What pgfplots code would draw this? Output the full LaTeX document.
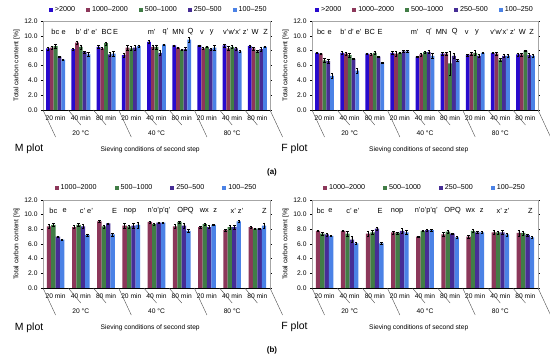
\documentclass[border=0pt]{standalone}
\usepackage{fontspec}
\setmainfont{Liberation Sans}
\usepackage{pgfplots}
\pgfplotsset{compat=1.18}
\usepackage{pgfplotstable}

\definecolor{c1}{RGB}{40,10,205}
\definecolor{c2}{RGB}{140,55,90}
\definecolor{c3}{RGB}{65,125,70}
\definecolor{c4}{RGB}{70,45,150}
\definecolor{c5}{RGB}{75,130,230}

\newcommand\fs{\fontsize{6.7}{8}\selectfont}
\newcommand\fl{\fontsize{7.4}{8.5}\selectfont}

% M plot (a)
\pgfplotstableread{
x a b c d e ea eb ec ed ee
0 8.3 8.4 8.6 7.2 6.8 0.2 0.2 0.3 0.1 0.1
1 8.2 9.1 8.5 7.8 7.5 0.1 0.2 0.3 0.1 0.3
2 8.5 8.3 9.0 7.5 7.6 0.2 0.1 0.2 0.3 0.3
3 7.4 8.4 8.3 8.4 8.6 0.3 0.3 0.3 0.3 0.2
4 9.2 8.5 8.5 7.7 8.8 0.2 0.3 0.3 0.3 0.1
5 8.7 8.4 8.1 8.2 9.5 0.1 0.1 0.1 0.2 0.3
6 8.7 8.3 8.5 8.2 8.4 0.1 0.1 0.1 0.1 0.3
7 8.7 8.3 8.5 8.3 7.9 0.2 0.3 0.2 0.2 0.1
8 8.6 8.3 7.9 8.2 8.5 0.2 0.2 0.1 0.3 0.1
}\MA
% F plot (a)
\pgfplotstableread{
x a b c d e ea eb ec ed ee
0 7.7 7.6 6.7 6.6 4.6 0.1 0.1 0.3 0.3 0.3
1 7.7 7.6 7.4 6.9 5.3 0.2 0.2 0.3 0.1 0.3
2 7.6 7.5 7.7 7.2 6.4 0.1 0.1 0.2 0.1 0.1
3 7.7 7.6 7.7 7.9 7.9 0.2 0.3 0.1 0.1 0.1
4 7.2 7.5 7.8 7.8 7.3 0.1 0.2 0.1 0.2 0.3
5 7.6 7.6 6.3 7.3 6.7 0.2 0.2 1.6 0.3 0.1
6 7.4 7.6 7.7 7.3 7.7 0.1 0.2 0.3 0.2 0.1
7 7.7 7.6 6.8 7.3 7.3 0.1 0.2 0.2 0.2 0.2
8 7.5 7.5 8.0 7.4 7.3 0.2 0.2 0.1 0.3 0.2
}\FA
% M plot (b)
\pgfplotstableread{
x b c d e eb ec ed ee
0 8.4 8.6 7.0 6.6 0.3 0.2 0.1 0.1
1 8.3 8.6 8.4 7.2 0.2 0.2 0.3 0.2
2 9.1 8.4 8.8 7.3 0.1 0.2 0.1 0.2
3 8.5 8.4 8.5 8.6 0.3 0.2 0.3 0.4
4 9.0 8.7 8.9 8.9 0.1 0.1 0.1 0.1
5 8.4 9.0 8.5 7.8 0.3 0.1 0.3 0.2
6 8.3 8.7 8.3 8.6 0.1 0.1 0.2 0.1
7 7.9 8.3 8.3 9.1 0.1 0.3 0.3 0.1
8 8.3 8.1 8.1 8.5 0.1 0.1 0.1 0.4
}\MB
% F plot (b)
\pgfplotstableread{
x b c d e eb ec ed ee
0 7.8 7.4 7.3 7.1 0.1 0.2 0.2 0.1
1 7.8 7.4 6.6 6.1 0.1 0.3 0.4 0.1
2 7.4 7.6 8.1 6.1 0.4 0.3 0.2 0.1
3 7.6 7.5 7.8 7.6 0.2 0.1 0.3 0.3
4 7.0 7.8 7.9 7.9 0.1 0.1 0.1 0.1
5 7.3 7.7 7.4 6.9 0.3 0.2 0.1 0.1
6 7.0 7.8 7.6 7.6 0.2 0.2 0.1 0.1
7 7.6 7.6 7.6 7.3 0.3 0.2 0.3 0.2
8 7.5 7.5 7.2 6.9 0.4 0.3 0.2 0.1
}\FB

\pgfplotsset{
  panel/.style={
    scale only axis, height=89bp,
    xmin=-0.5, xmax=8.5, ymin=0, ymax=12,
    xtick={0,...,8},
    xticklabels={20 min,40 min,80 min,20 min,40 min,80 min,20 min,40 min,80 min},
    x tick style={draw=none},
    ytick={0,2,...,12},
    y tick style={black, line width=0.4pt},
    tick align=outside, major tick length=2bp,
    y tick label style={/pgf/number format/.cd, fixed, fixed zerofill, precision=1, /tikz/.cd},
    /pgf/number format/assume math mode=true,
    tick label style={font=\fs},
    x tick label style={yshift=-0.5bp},
    axis line style={gray!70},
    ylabel={Total carbon content [\%]},
    ylabel style={font=\fs, yshift=-2bp},
    clip=false,
    legend style={draw=none, fill=none, font=\fontsize{7.2}{8}\selectfont, legend columns=-1, anchor=center, inner sep=0pt},
    legend cell align=left,
  },
  sq/.style={fill=#1, draw=none, legend image code/.code={\fill[#1] (0bp,-2bp) rectangle (4bp,2bp);}},
  eb/.style={error bars/.cd, y dir=both, y explicit, error bar style={black, line width=0.4pt}, error mark options={rotate=90, black, mark size=1.2bp, line width=0.4pt}},
}

\newcommand\xdecor{%
  \draw[black, line width=0.5pt] (axis cs:-0.5,0) -- (axis cs:8.5,0);
  \draw[gray!60!black, line width=0.4pt] (axis cs:-0.5,0) -- ++(0,-27bp);
  \draw[gray!60!black, line width=0.4pt] (axis cs:2.5,0) -- ++(0,-27bp);
  \draw[gray!60!black, line width=0.4pt] (axis cs:5.5,0) -- ++(0,-27bp);
  \draw[gray!60!black, line width=0.4pt] (axis cs:8.5,0) -- ++(0,-27bp);
  \draw[gray!60!black, line width=0.4pt] (axis cs:0.5,0) -- ++(0,-15bp);
  \draw[gray!60!black, line width=0.4pt] (axis cs:1.5,0) -- ++(0,-15bp);
  \draw[gray!60!black, line width=0.4pt] (axis cs:3.5,0) -- ++(0,-15bp);
  \draw[gray!60!black, line width=0.4pt] (axis cs:4.5,0) -- ++(0,-15bp);
  \draw[gray!60!black, line width=0.4pt] (axis cs:6.5,0) -- ++(0,-15bp);
  \draw[gray!60!black, line width=0.4pt] (axis cs:7.5,0) -- ++(0,-15bp);
  \node[font=\fs] at (axis cs:1,0) [yshift=-23.5bp] {20 °C};
  \node[font=\fs] at (axis cs:4,0) [yshift=-23.5bp] {40 °C};
  \node[font=\fs] at (axis cs:7,0) [yshift=-23.5bp] {80 °C};
  \node[font=\fs] at (axis cs:3.75,0) [yshift=-40bp] {Sieving conditions of second step};
}

\begin{document}
\begin{tikzpicture}
\path[use as bounding box] (0,0) rectangle (550bp,364bp);

% ---------- (a) M plot ----------
\begin{axis}[panel, width=227bp, at={(43bp,254bp)}, anchor=south west,
  ybar=0pt, bar width=0.15,
  legend style={at={(0.51,1.124)}, /tikz/every even column/.append style={column sep=9bp}}]
\addplot[sq=c1, eb] table[x=x,y=a,y error=ea]{\MA};
\addplot[sq=c2, eb] table[x=x,y=b,y error=eb]{\MA};
\addplot[sq=c3, eb] table[x=x,y=c,y error=ec]{\MA};
\addplot[sq=c4, eb] table[x=x,y=d,y error=ed]{\MA};
\addplot[sq=c5, eb] table[x=x,y=e,y error=ee]{\MA};
\legend{>2000,1000--2000,500--1000,250--500,100--250}
\xdecor
\begin{scope}[every node/.style={font=\fl}]
\node at (axis cs:-0.01,10.5) {bc};
\node at (axis cs:0.32,10.5) {e};
\node at (axis cs:1.22,10.5) {b' d' e'};
\node at (axis cs:2.03,10.5) {BC};
\node at (axis cs:2.38,10.5) {E};
\node at (axis cs:3.81,10.5) {m'};
\node at (axis cs:4.36,10.5) {q'};
\node at (axis cs:4.86,10.5) {MN};
\node at (axis cs:5.35,10.5) {Q};
\node at (axis cs:5.80,10.5) {v};
\node at (axis cs:6.19,10.5) {y};
\node at (axis cs:7.14,10.5) {v'w'x' z'};
\node at (axis cs:7.91,10.5) {W};
\node at (axis cs:8.33,10.5) {Z};
\end{scope}
\end{axis}

% ---------- (a) F plot ----------
\begin{axis}[panel, width=226bp, at={(312bp,254bp)}, anchor=south west,
  ybar=0pt, bar width=0.15,
  legend style={at={(0.5,1.124)}, /tikz/every even column/.append style={column sep=9bp}}]
\addplot[sq=c1, eb] table[x=x,y=a,y error=ea]{\FA};
\addplot[sq=c2, eb] table[x=x,y=b,y error=eb]{\FA};
\addplot[sq=c3, eb] table[x=x,y=c,y error=ec]{\FA};
\addplot[sq=c4, eb] table[x=x,y=d,y error=ed]{\FA};
\addplot[sq=c5, eb] table[x=x,y=e,y error=ee]{\FA};
\legend{>2000,1000--2000,500--1000,250--500,100--250}
\xdecor
\begin{scope}[every node/.style={font=\fl}]
\node at (axis cs:-0.14,10.5) {bc};
\node at (axis cs:0.2,10.5) {e};
\node at (axis cs:1.05,10.5) {b' d' e'};
\node at (axis cs:1.8,10.5) {BC};
\node at (axis cs:2.21,10.5) {E};
\node at (axis cs:3.59,10.5) {m'};
\node at (axis cs:4.16,10.5) {q'};
\node at (axis cs:4.66,10.5) {MN};
\node at (axis cs:5.18,10.5) {Q};
\node at (axis cs:5.66,10.5) {v};
\node at (axis cs:6.07,10.5) {y};
\node at (axis cs:7.1,10.5) {v'w'x' z'};
\node at (axis cs:7.88,10.5) {W};
\node at (axis cs:8.25,10.5) {Z};
\end{scope}
\end{axis}

% ---------- (b) M plot ----------
\begin{axis}[panel, width=227bp, height=88bp, at={(43bp,76bp)}, anchor=south west,
  ybar=0pt, bar width=0.175,
  legend style={at={(0.5,1.136)}, /tikz/every even column/.append style={column sep=16bp}}]
\addplot[sq=c2, eb] table[x=x,y=b,y error=eb]{\MB};
\addplot[sq=c3, eb] table[x=x,y=c,y error=ec]{\MB};
\addplot[sq=c4, eb] table[x=x,y=d,y error=ed]{\MB};
\addplot[sq=c5, eb] table[x=x,y=e,y error=ee]{\MB};
\legend{1000--2000,500--1000,250--500,100--250}
\xdecor
\begin{scope}[every node/.style={font=\fl}]
\node at (axis cs:-0.09,10.5) {bc};
\node at (axis cs:0.36,10.5) {e};
\node at (axis cs:1.22,10.5) {c' e'};
\node at (axis cs:2.34,10.5) {E};
\node at (axis cs:2.95,10.5) {nop};
\node at (axis cs:4.1,10.5) {n'o'p'q'};
\node at (axis cs:5.15,10.5) {OPQ};
\node at (axis cs:5.9,10.5) {wx};
\node at (axis cs:6.33,10.5) {z};
\node at (axis cs:7.19,10.5) {x' z'};
\node at (axis cs:8.28,10.5) {Z};
\end{scope}
\end{axis}

% ---------- (b) F plot ----------
\begin{axis}[panel, width=226bp, height=88bp, at={(312bp,76bp)}, anchor=south west,
  ybar=0pt, bar width=0.175,
  legend style={at={(0.5,1.136)}, /tikz/every even column/.append style={column sep=16bp}}]
\addplot[sq=c2, eb] table[x=x,y=b,y error=eb]{\FB};
\addplot[sq=c3, eb] table[x=x,y=c,y error=ec]{\FB};
\addplot[sq=c4, eb] table[x=x,y=d,y error=ed]{\FB};
\addplot[sq=c5, eb] table[x=x,y=e,y error=ee]{\FB};
\legend{1000--2000,500--1000,250--500,100--250}
\xdecor
\begin{scope}[every node/.style={font=\fl}]
\node at (axis cs:-0.16,10.5) {bc};
\node at (axis cs:0.23,10.5) {e};
\node at (axis cs:1.13,10.5) {c' e'};
\node at (axis cs:2.21,10.5) {E};
\node at (axis cs:2.89,10.5) {nop};
\node at (axis cs:4.05,10.5) {n'o'p'q'};
\node at (axis cs:5.1,10.5) {OPQ};
\node at (axis cs:5.81,10.5) {wx};
\node at (axis cs:6.26,10.5) {z};
\node at (axis cs:7.11,10.5) {x' z'};
\node at (axis cs:8.2,10.5) {Z};
\end{scope}
\end{axis}

% panel titles and captions
\node[font=\fontsize{10.5}{12}\selectfont] at (29bp,215bp) {M plot};
\node[font=\fontsize{10.5}{12}\selectfont] at (294.5bp,215bp) {F plot};
\node[font=\fontsize{10.5}{12}\selectfont] at (29bp,36bp) {M plot};
\node[font=\fontsize{10.5}{12}\selectfont] at (294.5bp,37bp) {F plot};
\node[font=\bfseries\fontsize{8}{9}\selectfont] at (272bp,192bp) {(a)};
\node[font=\bfseries\fontsize{8}{9}\selectfont] at (272bp,14bp) {(b)};
\end{tikzpicture}
\end{document}
